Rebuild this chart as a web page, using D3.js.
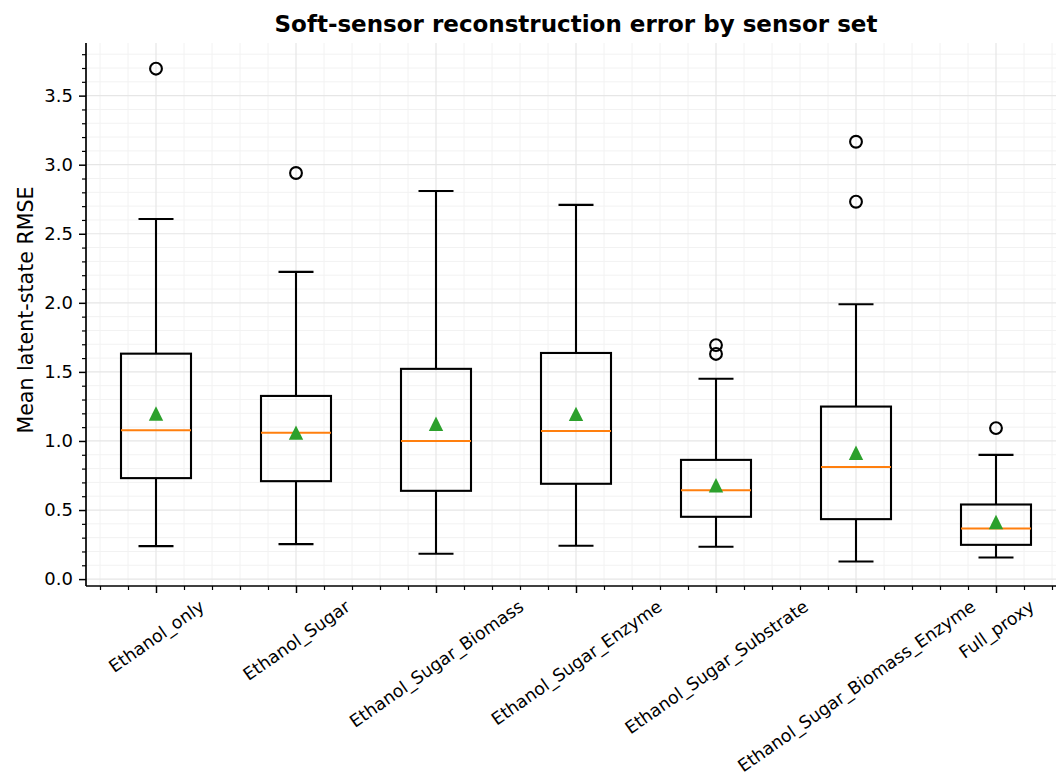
<!DOCTYPE html>
<html>
<head>
<meta charset="utf-8">
<script src="https://cdn.jsdelivr.net/npm/d3@7"></script>
<style>
  body { margin: 0; background: #fff; }
  text { font-family: "DejaVu Sans", sans-serif; fill: #000; }
</style>
</head>
<body>
<div id="chart"></div>
<script>
var svgWidth = 1056;
var svgHeight = 781;

// sensor sets (x categories)
var categories = ["Ethanol_only", "Ethanol_Sugar", "Ethanol_Sugar_Biomass", "Ethanol_Sugar_Enzyme",
  "Ethanol_Sugar_Substrate", "Ethanol_Sugar_Biomass_Enzyme", "Full_proxy"];

// box statistics
var whiskerLow = [0.239, 0.253, 0.183, 0.241, 0.234, 0.127, 0.156];
var q1 = [0.731, 0.709, 0.639, 0.690, 0.451, 0.434, 0.248];
var medians = [1.078, 1.059, 1.000, 1.073, 0.644, 0.812, 0.366];
var q3 = [1.632, 1.326, 1.522, 1.637, 0.863, 1.249, 0.540];
var whiskerHigh = [2.607, 2.224, 2.810, 2.709, 1.450, 1.990, 0.899];
var means = [1.199, 1.060, 1.125, 1.196, 0.679, 0.915, 0.413];
var outliers = [[3.695], [2.940], [], [], [1.694, 1.630], [3.166, 2.732], [1.093]];

var yTicks = [0.0, 0.5, 1.0, 1.5, 2.0, 2.5, 3.0, 3.5];

var margin = { top: 43, left: 86, bottom: 586 };
var tickFont = 18;
var xTickFont = 17.4;

var svg = d3.select("#chart")
  .append("svg")
  .attr("width", svgWidth)
  .attr("height", svgHeight);

var x = d3.scaleLinear().domain([0.5, 7.5]).range([margin.left, 1066]);
var y = d3.scaleLinear().domain([-0.05, 3.881]).range([margin.bottom, margin.top]);

var xMinor = d3.range(3, 38).map(d => d * 0.2).filter(d => Math.abs(d - Math.round(d)) > 1e-6);
var yMinor = d3.range(0, 39).map(d => d * 0.1).filter(d => Math.abs(d * 2 - Math.round(d * 2)) > 1e-6);

// grid: minor first, then major
var grid = svg.append("g");
grid.selectAll(".gx-minor").data(xMinor).enter().append("line")
  .attr("x1", d => x(d)).attr("x2", d => x(d))
  .attr("y1", margin.top).attr("y2", margin.bottom)
  .attr("stroke", "#f2f2f2").attr("stroke-width", 1);
grid.selectAll(".gy-minor").data(yMinor).enter().append("line")
  .attr("x1", margin.left).attr("x2", svgWidth)
  .attr("y1", d => y(d)).attr("y2", d => y(d))
  .attr("stroke", "#f2f2f2").attr("stroke-width", 1);
grid.selectAll(".gx").data(categories).enter().append("line")
  .attr("x1", (d, i) => x(i + 1)).attr("x2", (d, i) => x(i + 1))
  .attr("y1", margin.top).attr("y2", margin.bottom)
  .attr("stroke", "#e6e6e6").attr("stroke-width", 1.2);
grid.selectAll(".gy").data(yTicks).enter().append("line")
  .attr("x1", margin.left).attr("x2", svgWidth)
  .attr("y1", d => y(d)).attr("y2", d => y(d))
  .attr("stroke", "#e6e6e6").attr("stroke-width", 1.2);

// boxes
var boxW = 0.5, capW = 0.25, lw = 2.1;
var boxes = svg.append("g");
categories.forEach(function (c, i) {
  var cx = i + 1;
  var g = boxes.append("g");
  // whiskers
  g.append("line").attr("x1", x(cx)).attr("x2", x(cx))
    .attr("y1", y(q1[i])).attr("y2", y(whiskerLow[i]))
    .attr("stroke", "#000").attr("stroke-width", lw);
  g.append("line").attr("x1", x(cx)).attr("x2", x(cx))
    .attr("y1", y(q3[i])).attr("y2", y(whiskerHigh[i]))
    .attr("stroke", "#000").attr("stroke-width", lw);
  // caps
  [whiskerLow[i], whiskerHigh[i]].forEach(function (v) {
    g.append("line").attr("x1", x(cx - capW / 2)).attr("x2", x(cx + capW / 2))
      .attr("y1", y(v)).attr("y2", y(v))
      .attr("stroke", "#000").attr("stroke-width", lw);
  });
  // box
  g.append("rect")
    .attr("x", x(cx - boxW / 2)).attr("y", y(q3[i]))
    .attr("width", x(cx + boxW / 2) - x(cx - boxW / 2))
    .attr("height", y(q1[i]) - y(q3[i]))
    .attr("fill", "none").attr("stroke", "#000").attr("stroke-width", lw);
  // median
  g.append("line").attr("x1", x(cx - boxW / 2)).attr("x2", x(cx + boxW / 2))
    .attr("y1", y(medians[i])).attr("y2", y(medians[i]))
    .attr("stroke", "#ff7f0e").attr("stroke-width", 2);
  // outliers
  g.selectAll("circle").data(outliers[i]).enter().append("circle")
    .attr("cx", x(cx)).attr("cy", d => y(d)).attr("r", 5.9)
    .attr("fill", "none").attr("stroke", "#000").attr("stroke-width", lw);
  // mean triangle
  var mx = x(cx), my = y(means[i]), s = 7.2;
  g.append("path")
    .attr("d", `M${mx},${my - s}L${mx - s},${my + s}L${mx + s},${my + s}Z`)
    .attr("fill", "#2ca02c");
});

// y axis
var leftAxis = d3.axisLeft(y).tickValues(yTicks).tickFormat(d3.format(".1f")).tickSizeOuter(0).tickSize(7).tickPadding(6);
var yAxisG = svg.append("g").attr("transform", `translate(${margin.left},0)`).call(leftAxis);
svg.append("g").attr("transform", `translate(${margin.left},0)`)
  .call(d3.axisLeft(y).tickValues(yMinor).tickFormat("").tickSize(4).tickSizeOuter(0))
  .call(g => g.selectAll(".tick line").attr("stroke-width", 1.2))
  .select(".domain").remove();
yAxisG.select(".domain").attr("d", `M0,${margin.top}V${margin.bottom}`).attr("stroke-width", 1.7);
yAxisG.selectAll(".tick line").attr("stroke-width", 1.5);
yAxisG.selectAll(".tick text").style("font-size", tickFont + "px").style("font-family", "DejaVu Sans");

// x axis
var bottomAxis = d3.axisBottom(x).tickValues(d3.range(1, 8)).tickFormat((d, i) => categories[i]).tickSize(7).tickSizeOuter(0);
var xAxisG = svg.append("g").attr("transform", `translate(0,${margin.bottom})`).call(bottomAxis);
svg.append("g").attr("transform", `translate(0,${margin.bottom})`)
  .call(d3.axisBottom(x).tickValues(xMinor).tickFormat("").tickSize(4).tickSizeOuter(0))
  .call(g => g.selectAll(".tick line").attr("stroke-width", 1.2))
  .select(".domain").remove();
xAxisG.select(".domain").attr("d", `M${margin.left},0H${svgWidth}`).attr("stroke-width", 1.7);
xAxisG.selectAll(".tick line").attr("stroke-width", 1.5);

// rotated labels: bounding box centred on the tick, top just below it
var ang = 35 * Math.PI / 180;
xAxisG.selectAll(".tick text")
  .style("font-size", xTickFont + "px").style("font-family", "DejaVu Sans")
  .attr("text-anchor", "middle")
  .attr("y", 0).attr("dy", "0.35em")
  .each(function () {
    var w = this.getComputedTextLength();
    var h = xTickFont * 1.164;
    var H = w * Math.sin(ang) + h * Math.cos(ang);
    d3.select(this).attr("transform", `translate(0,${10 + H / 2}) rotate(-35)`);
  });

// y label
svg.append("text")
  .attr("transform", `translate(33,310) rotate(-90)`)
  .attr("text-anchor", "middle")
  .style("font-size", "20.6px")
  .text("Mean latent-state RMSE");

// title
svg.append("text")
  .attr("x", 576).attr("y", 32)
  .attr("text-anchor", "middle")
  .style("font-size", "23px").style("font-weight", "bold")
  .text("Soft-sensor reconstruction error by sensor set");
</script>
</body>
</html>
